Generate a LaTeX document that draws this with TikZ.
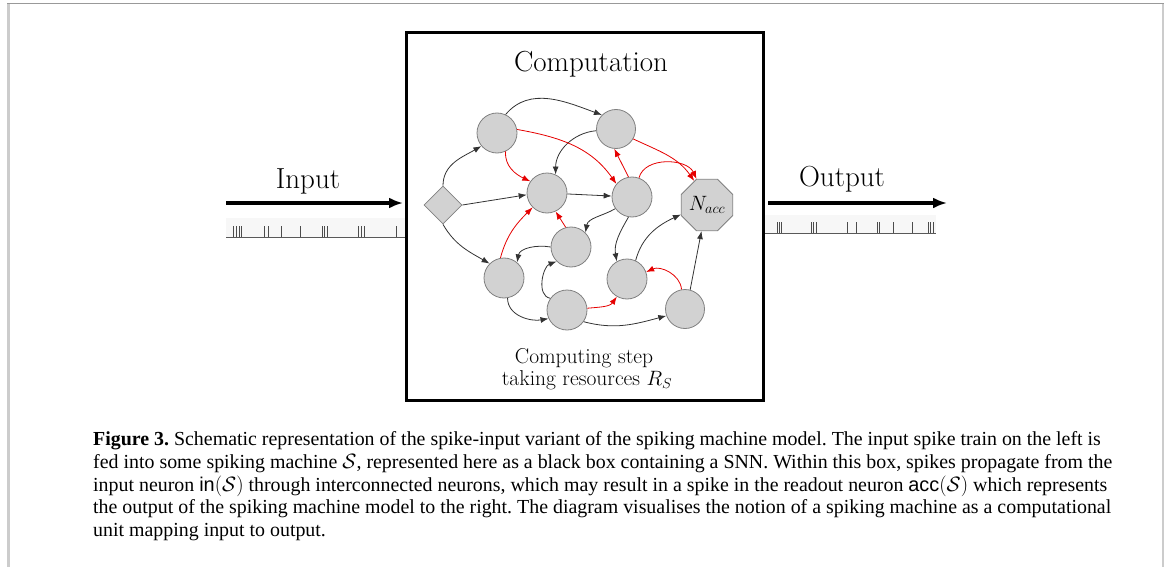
\documentclass[tikz,border=0pt]{standalone}
\usepackage{fontspec}
\usetikzlibrary{shapes.geometric,arrows.meta}
\newfontfamily\capfont{Liberation Serif}
\newfontfamily\capsans{Liberation Sans}

\tikzset{
  neuron/.style={circle, fill=gray!35, draw=gray, line width=0.8pt, minimum size=40pt, inner sep=0pt},
  inneuron/.style={diamond, fill=gray!35, draw=gray, line width=0.8pt, minimum width=38pt, minimum height=38pt, inner sep=0pt},
  accneuron/.style={regular polygon, regular polygon sides=8, fill=gray!35, draw=gray, line width=0.8pt, minimum size=54pt, inner sep=0pt},
  syn/.style={draw=black!80, line width=0.8pt, -{Latex[length=8pt,width=6pt]}},
  redsyn/.style={draw=red!90!black, line width=0.8pt, -{Latex[length=8pt,width=6pt]}},
  bigarrow/.style={line width=4pt, -{Latex[length=14pt,width=11pt]}},
  label/.style={inner sep=0pt, anchor=base, font=\fontsize{29}{33}\selectfont},
  smalllabel/.style={inner sep=0pt, anchor=base, font=\fontsize{21.5}{25}\selectfont},
  captext/.style={inner sep=0pt, anchor=north west, align=left, font=\capfont\fontsize{19.9}{22.75}\selectfont\frenchspacing},
  spike/.style={draw=gray!60!black, line width=1pt},
  trainbase/.style={draw=gray!70!black, line width=1pt},
}

\begin{document}
\begin{tikzpicture}[x=1pt, y=1pt]
\useasboundingbox (0,0) rectangle (1167,-567);

% page frame
\fill[gray!40] (7,-4) rectangle (9.5,-567);
\fill[gray!40] (1161.5,-4) rectangle (1164,-567);
\draw[gray!80, line width=1pt] (7,-4) -- (1164,-4);

% the machine box
\draw[line width=3pt] (406,-33) rectangle (763,-400);
\node[label] (comp) at (591,-72) {Computation};
\node[smalllabel] (step1) at (584,-363) {Computing step};
\node[smalllabel] (step2) at (587,-385) {taking resources $R_S$};

% input side
\fill[gray!6] (226,-218) rectangle (405,-237);
\coordinate (inL) at (226,-237);
\coordinate (inR) at (405,-237);
\draw[trainbase] (inL) -- (inR);
\foreach \x in {233,236,239,241,264,268,281,300,322,324.5,327,358,361,364,396}
  \draw[spike] (\x,-226) -- (\x,-237);
\coordinate (ia) at (226,-203);
\coordinate (ib) at (403,-203);
\draw[bigarrow] (ia) -- (ib);
\node[label] (inlab) at (308,-188) {Input};

% output side
\fill[gray!6] (765,-215) rectangle (936,-233);
\coordinate (outL) at (765,-233);
\coordinate (outR) at (936,-233);
\draw[trainbase] (outL) -- (outR);
\foreach \x in {777,779,781,811,813.5,816,847,856,877,879.5,893,912,928,930.5,933}
  \draw[spike] (\x,-222) -- (\x,-233);
\coordinate (oa) at (768,-203);
\coordinate (ob) at (947,-203);
\draw[bigarrow] (oa) -- (ob);
\node[label] (outlab) at (842,-186) {Output};

% the network
\node[inneuron] (in) at (443,-205) {};
\node[accneuron] (acc) at (707,-205) {\fontsize{20}{22}\selectfont$N_{acc}$};
\node[neuron] (a) at (497,-133) {};
\node[neuron, minimum size=39pt] (b) at (616,-129) {};
\node[neuron] (c) at (547,-193) {};
\node[neuron] (d) at (632,-197) {};
\node[neuron] (e) at (571,-247) {};
\node[neuron] (f) at (504,-278) {};
\node[neuron] (g) at (567,-310) {};
\node[neuron] (h) at (627,-279) {};
\node[neuron, minimum size=39pt] (i) at (685,-309) {};

% black synapses
\draw[syn] (in.north) to[out=90, in=210] (a.220);
\draw[syn] (in.east) -- (c.185);
\draw[syn] (in.south) to[out=-60, in=150] (f.135);
\draw[syn] (a.65) to[out=50, in=160] (b.135);
\draw[syn] (b.185) to[out=185, in=90] (c.65);
\draw[syn] (c) -- (d);
\draw[syn] (d.215) to[out=210, in=80] (e.45);
\draw[syn] (d.-100) to[out=-120, in=100] (h.120);
\draw[syn] (e.180) to[out=170, in=80] (f.50);
\draw[syn] (g.145) to[out=170, in=200] (e.225);
\draw[syn] (f.-80) to[out=-90, in=190] (g.205);
\draw[syn] (g.-35) to[out=-15, in=195] (i.200);
\draw[syn] (i.75) -- (acc.258);
\draw[syn] (h.65) to[out=75, in=205] (acc.200);

% red synapses
\draw[redsyn] (a.-65) to[out=-95, in=155] (c.145);
\draw[redsyn] (a.10) to[out=-10, in=125] (d.140);
\draw[redsyn] (b.-30) to[out=-25, in=125] (acc.118);
\draw[redsyn] (d.100) -- (b.-95);
\draw[redsyn] (d.70) to[out=75, in=115] (acc.112);
\draw[redsyn] (e.105) -- (c.-65);
\draw[redsyn] (f.100) to[out=75, in=225] (c.225);
\draw[redsyn] (g.5) to[out=5, in=235] (h.240);
\draw[redsyn] (i.100) to[out=95, in=25] (h.20);

% caption
\node[captext] (caption) at (93,-431.5) {\textbf{Figure 3.} Schematic representation of the spike-input variant of the spiking machine model. The input spike train on the left is\\
fed into some spiking machine $\mathcal{S}$, represented here as a black box containing a SNN. Within this box, spikes propagate from the\\
input neuron {\capsans in}$(\mathcal{S})$ through interconnected neurons, which may result in a spike in the readout neuron {\capsans acc}$(\mathcal{S})$ which represents\\
the output of the spiking machine model to the right. The diagram visualises the notion of a spiking machine as a computational\\
unit mapping input to output.};
\end{tikzpicture}
\end{document}
